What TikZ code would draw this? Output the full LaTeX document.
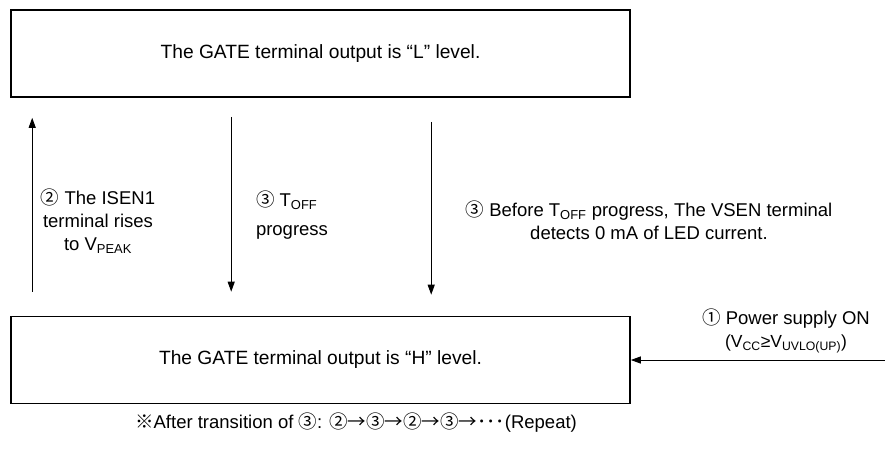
\documentclass[tikz,border=0pt]{standalone}
\usepackage{fontspec}
\setmainfont{Liberation Sans}
\newfontfamily\cjk{Noto Sans CJK JP}
\usetikzlibrary{arrows.meta}
\tikzset{->/.style = {-{Triangle[length=10pt,width=7pt]}, line width=1pt}}
\tikzset{gatebox/.style = {draw, line width=1.6pt, minimum width=619pt, minimum height=87pt,
                           inner sep=0pt, font=\fontsize{19.2}{23}\selectfont}}
\tikzset{note/.style = {align=center, inner sep=0pt, font=\fontsize{18.5}{23}\selectfont}}
\newcommand{\jp}[1]{{\cjk #1}}

\begin{document}
\begin{tikzpicture}[x=1pt, y=-1pt]
      \useasboundingbox (0, 0) rectangle (885, 448);
      \node [gatebox] (L) at (320.5, 53.5) {The GATE terminal output is “L” level.};
      \node [gatebox] (H) at (320.5, 360) {The GATE terminal output is “H” level.};
      \coordinate (pwr) at (885, 360);

      \draw [->, shorten <=24pt, shorten >=20pt] ([xshift=22pt]H.north west) -- ([xshift=22pt]L.south west);
      \draw [->, shorten <=19pt, shorten >=24pt] ([xshift=221pt]L.south west) -- ([xshift=221pt]H.north west);
      \draw [->, shorten <=24pt, shorten >=21pt] ([xshift=421pt]L.south west) -- ([xshift=421pt]H.north west);
      \draw [->] (pwr) -- (H.east);

      \node [note] (isen) at (98, 221) {\jp{②} The ISEN1\\terminal rises\\to V\textsubscript{PEAK}};
      \node [note, align=left] (toff) at (292, 215) {\jp{③} T\textsubscript{OFF}\\[6pt]progress};
      \node [note] (vsen) at (649, 220) {\jp{③} Before T\textsubscript{OFF} progress, The VSEN terminal\\detects 0 mA of LED current.};
      \node [note] (pwron) at (786, 331) {\jp{①} Power supply ON\\{\fontsize{17.5}{22}\selectfont(V\textsubscript{CC}≥V\textsubscript{UVLO(UP)})}};
      \node [note] (rpt) at (356, 423) {\jp{※}After transition of \jp{③}: \jp{②→③→②→③→･･･}(Repeat)};
    \end{tikzpicture}
\end{document}
